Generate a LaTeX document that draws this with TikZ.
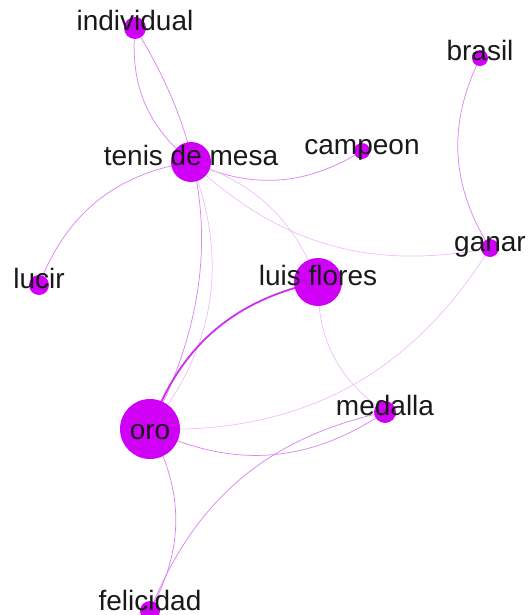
\documentclass[tikz,border=0pt]{standalone}
\usepackage{fontspec}
\setmainfont{Liberation Sans}
\usepackage{tikz}
\usetikzlibrary{backgrounds}
\definecolor{kwViolet}{HTML}{D000F6}
\definecolor{linkViolet}{HTML}{DC86F2}
\definecolor{linkPale}{HTML}{EEBEF8}
\definecolor{linkDeep}{HTML}{CC30EE}
\tikzset{
  kw/.style={circle, fill=kwViolet, inner sep=0pt, minimum size=#1},
  kwlabel/.style={anchor=base, inner sep=0pt, yshift=-3pt, text=black!90,
    font=\fontsize{28}{30}\selectfont},
  link/.style={linkViolet, line width=0.75pt},
  pale/.style={linkPale, line width=0.7pt},
  deep/.style={linkDeep, line width=1.8pt},
}
\begin{document}
\begin{tikzpicture}[x=1pt, y=-1pt]
  \useasboundingbox (0,0) rectangle (529,615);
  % keywords, sized by weight
  \node[kw=22] (individual) at (135,28) {};
  \node[kw=16] (brasil) at (480,58) {};
  \node[kw=40] (tenis) at (191,162) {};
  \node[kw=16] (campeon) at (362,151) {};
  \node[kw=18] (ganar) at (490,248) {};
  \node[kw=20] (lucir) at (39,285) {};
  \node[kw=48] (luis) at (318,282) {};
  \node[kw=60] (oro) at (150,429) {};
  \node[kw=22] (medalla) at (385,412) {};
  \node[kw=20] (felicidad) at (150,611) {};
  % labels centred on the keywords
  \node[kwlabel] (individual-l) at (individual) {individual};
  \node[kwlabel] (brasil-l) at (brasil) {brasil};
  \node[kwlabel] (tenis-l) at (tenis) {tenis de mesa};
  \node[kwlabel] (campeon-l) at (campeon) {campeon};
  \node[kwlabel] (ganar-l) at (ganar) {ganar};
  \node[kwlabel] (lucir-l) at (lucir) {lucir};
  \node[kwlabel] (luis-l) at (luis) {luis flores};
  \node[kwlabel, yshift=-7pt] (oro-l) at (oro) {oro};
  \node[kwlabel, yshift=4pt] (felicidad-l) at (felicidad) {felicidad};
  \node[kwlabel] (medalla-l) at (medalla) {medalla};
  % co-occurrence links
  \begin{scope}[on background layer]
    \draw[link] (individual.center) to[bend right=28] (tenis.center);
    \draw[link] (oro.center) to[bend right=30] (individual.center);
    \draw[link] (brasil.center) to[bend right=29] (ganar.center);
    \draw[link] (tenis.center) to[bend right=28] (campeon.center);
    \draw[link] (tenis.center) to[bend right=30] (lucir.center);
    \draw[pale] (tenis.center) to[bend right=27] (ganar.center);
    \draw[pale] (tenis.center) to[bend left=25] (luis.center);
    \draw[pale] (tenis.center) to[bend left=30] (oro.center);
    \draw[deep] (luis.center) to[bend right=29] (oro.center);
    \draw[pale] (oro.center) to[bend right=30] (ganar.center);
    \draw[link] (oro.center) to[bend right=30] (medalla.center);
    \draw[link] (felicidad.center) to[bend left=28] (medalla.center);
    \draw[link] (oro.center) to[bend left=29] (felicidad.center);
    \draw[pale] (luis.center) to[bend right=28] (medalla.center);
  \end{scope}
\end{tikzpicture}
\end{document}
